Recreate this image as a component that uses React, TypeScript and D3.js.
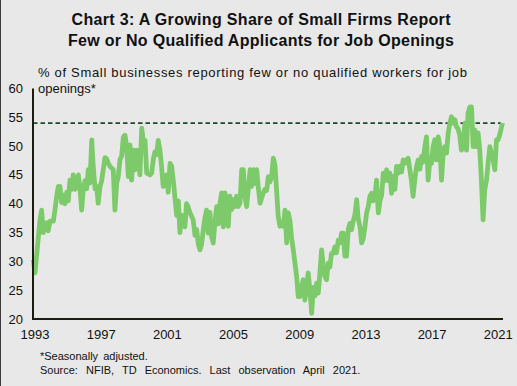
import React, { useEffect, useRef } from "react";
import * as d3 from "d3";

// observation dates (decimal years) and % of firms
const obsYears = [
  1992.9, 1993.0, 1993.3, 1993.4, 1993.5, 1993.71, 1993.8, 1993.91, 1994.11, 1994.21,
  1994.31, 1994.41, 1994.51, 1994.61, 1994.71, 1994.81, 1994.92, 1995.01, 1995.11, 1995.22,
  1995.31, 1995.42, 1995.52, 1995.62, 1995.72, 1995.82, 1995.92, 1996.02, 1996.12, 1996.22,
  1996.32, 1996.43, 1996.52, 1996.63, 1996.73, 1996.82, 1996.93, 1997.03, 1997.13, 1997.23,
  1997.33, 1997.43, 1997.53, 1997.73, 1997.83, 1997.94, 1998.03, 1998.14, 1998.24, 1998.34,
  1998.44, 1998.54, 1998.64, 1998.74, 1998.84, 1998.94, 1999.04, 1999.14, 1999.24, 1999.34,
  1999.45, 1999.54, 1999.65, 1999.75, 1999.95, 2000.05, 2000.15, 2000.25, 2000.35, 2000.45,
  2000.55, 2000.65, 2000.75, 2000.96, 2001.05, 2001.16, 2001.26, 2001.36, 2001.46, 2001.56,
  2001.66, 2001.76, 2001.86, 2001.96, 2002.06, 2002.16, 2002.25, 2002.36, 2002.56, 2002.67,
  2002.77, 2002.87, 2002.97, 2003.07, 2003.17, 2003.27, 2003.37, 2003.47, 2003.57, 2003.67,
  2003.77, 2003.88, 2003.98, 2004.08, 2004.18, 2004.28, 2004.38, 2004.48, 2004.58, 2004.68,
  2004.78, 2004.88, 2004.98, 2005.08, 2005.18, 2005.28, 2005.39, 2005.49, 2005.59, 2005.69,
  2005.79, 2006.0, 2006.09, 2006.2, 2006.29, 2006.4, 2006.49, 2006.6, 2006.79, 2006.9,
  2007.0, 2007.1, 2007.2, 2007.3, 2007.4, 2007.5, 2007.6, 2007.7, 2007.8, 2007.91,
  2008.0, 2008.11, 2008.21, 2008.31, 2008.41, 2008.51, 2008.61, 2008.71, 2008.81, 2008.91,
  2009.01, 2009.11, 2009.21, 2009.31, 2009.41, 2009.51, 2009.62, 2009.72, 2009.82, 2009.92,
  2010.02, 2010.12, 2010.22, 2010.32, 2010.41, 2010.52, 2010.62, 2010.72, 2010.82, 2010.92,
  2011.02, 2011.12, 2011.22, 2011.33, 2011.43, 2011.53, 2011.63, 2011.73, 2011.83, 2011.93,
  2012.03, 2012.13, 2012.23, 2012.33, 2012.44, 2012.53, 2012.64, 2012.74, 2012.84, 2012.94,
  2013.04, 2013.14, 2013.24, 2013.34, 2013.44, 2013.54, 2013.64, 2013.75, 2013.85, 2013.95,
  2014.05, 2014.15, 2014.25, 2014.35, 2014.45, 2014.55, 2014.65, 2014.75, 2014.85, 2014.95,
  2015.05, 2015.15, 2015.25, 2015.35, 2015.45, 2015.55, 2015.65, 2015.75, 2015.85, 2015.95,
  2016.06, 2016.16, 2016.26, 2016.36, 2016.45, 2016.56, 2016.66, 2016.76, 2016.86, 2016.96,
  2017.06, 2017.16, 2017.27, 2017.37, 2017.47, 2017.57, 2017.67, 2017.77, 2017.87, 2017.97,
  2018.07, 2018.17, 2018.27, 2018.37, 2018.47, 2018.57, 2018.67, 2018.77, 2018.87, 2018.98,
  2019.08, 2019.17, 2019.28, 2019.38, 2019.48, 2019.58, 2019.68, 2019.78, 2019.88, 2019.98,
  2020.08, 2020.18, 2020.29, 2020.38, 2020.49, 2020.59, 2020.69, 2020.79, 2020.89, 2020.99,
  2021.09, 2021.25,
];

const obsValues = [
  30.3, 28, 37.2, 38.9, 35, 36.7, 35.3, 37, 37, 39,
  41.3, 43, 43, 40.2, 41.5, 40, 42, 40.5, 44.1, 42.5,
  45, 42.5, 43.6, 45, 42.5, 38.9, 42.6, 44, 42.6, 45.9,
  43.6, 51.1, 46.5, 42.6, 43, 40.1, 43, 44, 46, 48,
  47.8, 47, 46.5, 45.9, 38.9, 43.6, 44.7, 47.7, 48.3, 51.6,
  51.9, 49.9, 44.7, 50.2, 44.1, 49.3, 45.9, 49.3, 47.7, 45,
  53.1, 51, 51, 45.3, 45, 45.3, 47.7, 49, 48.5, 51,
  49.3, 46.5, 43, 45, 42, 47, 46.5, 44, 41, 38,
  40.5, 35, 38, 37.8, 36, 40, 39.5, 38.5, 37.2, 34.5,
  35.5, 33, 32, 33, 35.5, 37.5, 38.9, 34.9, 38.5, 34.3,
  33.2, 37, 39.5, 36.5, 40.1, 41.9, 36, 41.9, 40.5, 36.1,
  41.3, 39, 40.7, 39.5, 41.3, 39.5, 40.1, 45.9, 45.9, 41.3,
  39.5, 45.9, 43, 45.9, 43.5, 45.9, 43, 40.1, 41.8, 42.5,
  42.3, 44.7, 43.8, 44.7, 47.9, 46.8, 42.4, 37.8, 36.1, 36.5,
  36.1, 38.9, 33.2, 38.4, 37, 34, 32, 29.7, 27.4, 23.9,
  23.9, 25.6, 26.8, 23.3, 25.5, 28, 25, 21, 25.5, 24,
  26.2, 24.5, 28, 32, 29.5, 27.4, 26.8, 29.7, 29, 31.4,
  31.4, 32.5, 31.5, 33.7, 33.2, 34.9, 34.9, 30.9, 30.9, 35.5,
  36.6, 35.5, 37, 38, 40.7, 37.5, 36, 33.2, 34, 36,
  38.4, 39.5, 41.3, 41.8, 40.5, 41, 44.1, 38.4, 40.5, 41.5,
  45.3, 44, 45.9, 44, 45.3, 41.8, 44.7, 42.5, 46.5, 45.3,
  46.5, 45.5, 47.6, 47, 47.6, 47.9, 46, 44, 41.3, 44.1,
  46.5, 47.6, 46, 48.2, 47.2, 49.9, 51.6, 44.1, 47.5, 47,
  49.9, 51.1, 47.6, 51.6, 49.9, 44.1, 48.8, 49.9, 48.8, 52.2,
  54, 55.1, 54, 54.6, 53.4, 53, 51.9, 49.3, 49.9, 54,
  49.3, 55.7, 56.8, 56.8, 49.9, 52.8, 49.9, 52.3, 49.3, 44.1,
  37.2, 42.4, 44.1, 47, 49.9, 48.8, 47.6, 45.9, 51.1, 51.1,
  52, 54,
];

const yTicks = [20, 25, 30, 35, 40, 45, 50, 55, 60];
const xTicks = [1993, 1997, 2001, 2005, 2009, 2013, 2017, 2021];
const referenceLevel = 54;

const titleLines = [
  "Chart 3: A Growing Share of Small Firms Report",
  "Few or No Qualified Applicants for Job Openings",
];
const subtitleLines = [
  "% of Small businesses reporting few or no qualified workers for job",
  "openings*",
];
const noteLines = [
  "*Seasonally adjusted.",
  "Source: NFIB, TD Economics. Last observation April 2021.",
];

const SkillsChart = () => {
  const svgRef = useRef<SVGSVGElement>(null);
  const width = 517;
  const height = 386;

  useEffect(() => {
    const svg = d3.select(svgRef.current);
    svg.selectAll("*").remove();

    const left = 33;
    const right = 503;
    const top = 88.5;
    const bottom = 319;

    // 1993 tick sits a touch right of the axis line
    const x = d3.scaleLinear().domain([1993, 2021]).range([35, 498.3]);
    const y = d3.scaleLinear().domain([20, 60]).range([bottom, top]);

    const font = "'Liberation Sans', Arial, sans-serif";

    svg.append("rect")
      .attr("width", width)
      .attr("height", height)
      .attr("fill", "#e8e8e8");
    svg.append("line")
      .attr("x1", 0.5).attr("x2", 0.5)
      .attr("y1", 0).attr("y2", height)
      .attr("stroke", "#3a3a3a");

    // title
    svg.append("g")
      .selectAll("text")
      .data(titleLines)
      .join("text")
      .attr("x", 261)
      .attr("y", (d, i) => 24.5 + i * 21)
      .attr("text-anchor", "middle")
      .attr("textLength", (d, i) => (i === 0 ? 379 : 386))
      .attr("lengthAdjust", "spacing")
      .style("font", `bold 16px ${font}`)
      .attr("fill", "#111")
      .text((d) => d);

    // subtitle
    svg.append("g")
      .selectAll("text")
      .data(subtitleLines)
      .join("text")
      .attr("x", 38)
      .attr("y", (d, i) => 77 + i * 15.5)
      .attr("textLength", (d, i) => (i === 0 ? 429 : null))
      .attr("lengthAdjust", "spacing")
      .style("font", `13px ${font}`)
      .attr("fill", "#111")
      .text((d) => d);

    // y tick labels
    svg.append("g")
      .selectAll("text")
      .data(yTicks)
      .join("text")
      .attr("x", 23)
      .attr("y", (d) => y(d))
      .attr("dy", "0.35em")
      .attr("text-anchor", "end")
      .style("font", `13px ${font}`)
      .attr("fill", "#111")
      .text((d) => d);

    // x tick labels
    svg.append("g")
      .selectAll("text")
      .data(xTicks)
      .join("text")
      .attr("x", (d) => x(d))
      .attr("y", bottom + 20)
      .attr("text-anchor", "middle")
      .style("font", `13px ${font}`)
      .attr("fill", "#111")
      .text((d) => d);

    // dashed reference line
    svg.append("line")
      .attr("x1", left)
      .attr("x2", 501)
      .attr("y1", y(referenceLevel))
      .attr("y2", y(referenceLevel))
      .attr("stroke", "#1d4a2a")
      .attr("stroke-width", 1.6)
      .attr("stroke-dasharray", "4.5,3");

    const points = obsYears.map((yr, i) => [yr, obsValues[i]] as [number, number]);
    const line = d3.line<[number, number]>()
      .x((d) => x(d[0]))
      .y((d) => y(d[1]));

    svg.append("path")
      .datum(points)
      .attr("d", line)
      .attr("fill", "none")
      .attr("stroke", "#7dca6b")
      .attr("stroke-width", 4.8)
      .attr("stroke-linejoin", "round");

    // axes
    svg.append("line")
      .attr("x1", left).attr("x2", left)
      .attr("y1", top).attr("y2", bottom)
      .attr("stroke", "#1c1c12")
      .attr("stroke-width", 2);
    svg.append("line")
      .attr("x1", left - 1).attr("x2", right)
      .attr("y1", bottom).attr("y2", bottom)
      .attr("stroke", "#1c1c12")
      .attr("stroke-width", 2);

    // footnotes
    svg.append("g")
      .selectAll("text")
      .data(noteLines)
      .join("text")
      .attr("x", 40)
      .attr("y", (d, i) => 360 + i * 13.5)
      .style("font", `11px ${font}`)
      .style("word-spacing", (d, i) => (i === 0 ? "2px" : "5px"))
      .attr("fill", "#111")
      .text((d) => d);
  }, []);

  return (
    <svg
      ref={svgRef}
      width={width}
      height={height}
      viewBox={`0 0 ${width} ${height}`}
      style={{ position: "absolute", left: 0, top: 0 }}
    ></svg>
  );
};

export default function App() {
  return <SkillsChart />;
}
